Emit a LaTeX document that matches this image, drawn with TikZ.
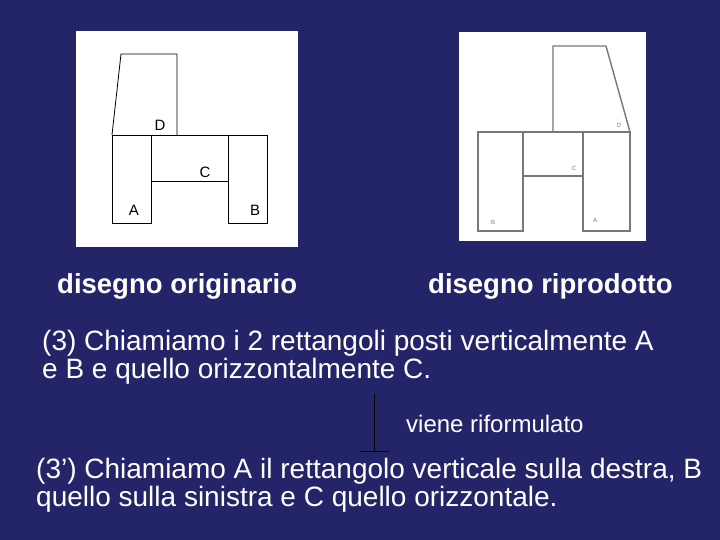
\documentclass[tikz,border=0pt]{standalone}
\usepackage{fontspec}
\setmainfont{Liberation Sans}
\usetikzlibrary{calc}
\definecolor{slideblue}{RGB}{36,36,104}
\definecolor{scangray}{RGB}{120,120,120}

\begin{document}
\begin{tikzpicture}[x=1pt, y=-1pt,
		sheet/.style={fill=white, draw=none},
		origline/.style={draw=black, line width=0.8pt},
		copyline/.style={draw=scangray, line width=1.4pt},
		textline/.style={anchor=base west, inner sep=0pt, text=white, align=left, font=\fontsize{28}{25}\selectfont},
		title/.style={anchor=base west, inner sep=0pt, text=white, font=\fontsize{27.5}{27.5}\selectfont\bfseries}]
				\newcommand{\mysmallfont}[1]{
					\fontsize{15}{15}\selectfont{#1}
				}\newcommand{\mytinyfont}[1]{
					\fontsize{6}{6}\selectfont{#1}
				}%Slide background
				\fill[slideblue] (0,0) rectangle (720,540);
				%White sheets
				\fill[sheet] (76,31) rectangle (298,247);
				\fill[sheet] (459,32) rectangle (646,241);
				%Original drawing
				\coordinate (origD0) at (112,135);
				\coordinate (origD1) at (121,54);
				\coordinate (origD2) at (177,54);
				\coordinate (origD3) at (177,135);
				\draw[origline] (origD0) -- (origD1) -- (origD2) -- (origD3);
				\draw[origline] (112,135) rectangle (151,223);
				\draw[origline] (151,135) rectangle (228,181);
				\draw[origline] (228,135) rectangle (267,223);
				\node (origLabelD) at (160,125) {\mysmallfont{D}};
				\node (origLabelC) at (205,172) {\mysmallfont{C}};
				\node (origLabelA) at (134,210) {\mysmallfont{A}};
				\node (origLabelB) at (255,210) {\mysmallfont{B}};
				%Reproduced drawing
				\coordinate (copyD0) at (553,132);
				\coordinate (copyD1) at (553,46);
				\coordinate (copyD2) at (606,46);
				\coordinate (copyD3) at (630,132);
				\draw[copyline] (copyD0) -- (copyD1) -- (copyD2) -- (copyD3);
				\draw[copyline] (478,132) rectangle (523,231);
				\draw[copyline] (523,132) rectangle (583,176);
				\draw[copyline] (583,132) rectangle (630,231);
				\node[text=scangray] (copyLabelD) at (619,125) {\mytinyfont{D}};
				\node[text=scangray] (copyLabelC) at (574,168) {\mytinyfont{C}};
				\node[text=scangray] (copyLabelB) at (493,222) {\mytinyfont{B}};
				\node[text=scangray] (copyLabelA) at (595,220) {\mytinyfont{A}};
				%Captions
				\node[title] (captionOrig) at (57,293) {disegno originario};
				\node[title] (captionCopy) at (428,293) {disegno riprodotto};
				%The two statements (anchored on the last line)
				\node[textline] (stmtFirst) at (42,378) {(3) Chiamiamo i 2 rettangoli posti verticalmente A\\e B e quello orizzontalmente C.};
				\node[textline] (stmtSecond) at (36,506) {(3’) Chiamiamo A il rettangolo verticale sulla destra, B\\quello sulla sinistra e C quello orizzontale.};
				%Marker between the statements
				\coordinate (stemTop) at (374,394);
				\coordinate (stemBottom) at (374,451);
				\coordinate (barLeft) at (360,451);
				\coordinate (barRight) at (389,451);
				\draw[origline] (stemTop) -- (stemBottom);
				\draw[origline] (barLeft) -- (barRight);
				\node[textline, font=\fontsize{24}{24}\selectfont] (stmtNote) at (406,432) {viene riformulato};
				\end{tikzpicture}
\end{document}
